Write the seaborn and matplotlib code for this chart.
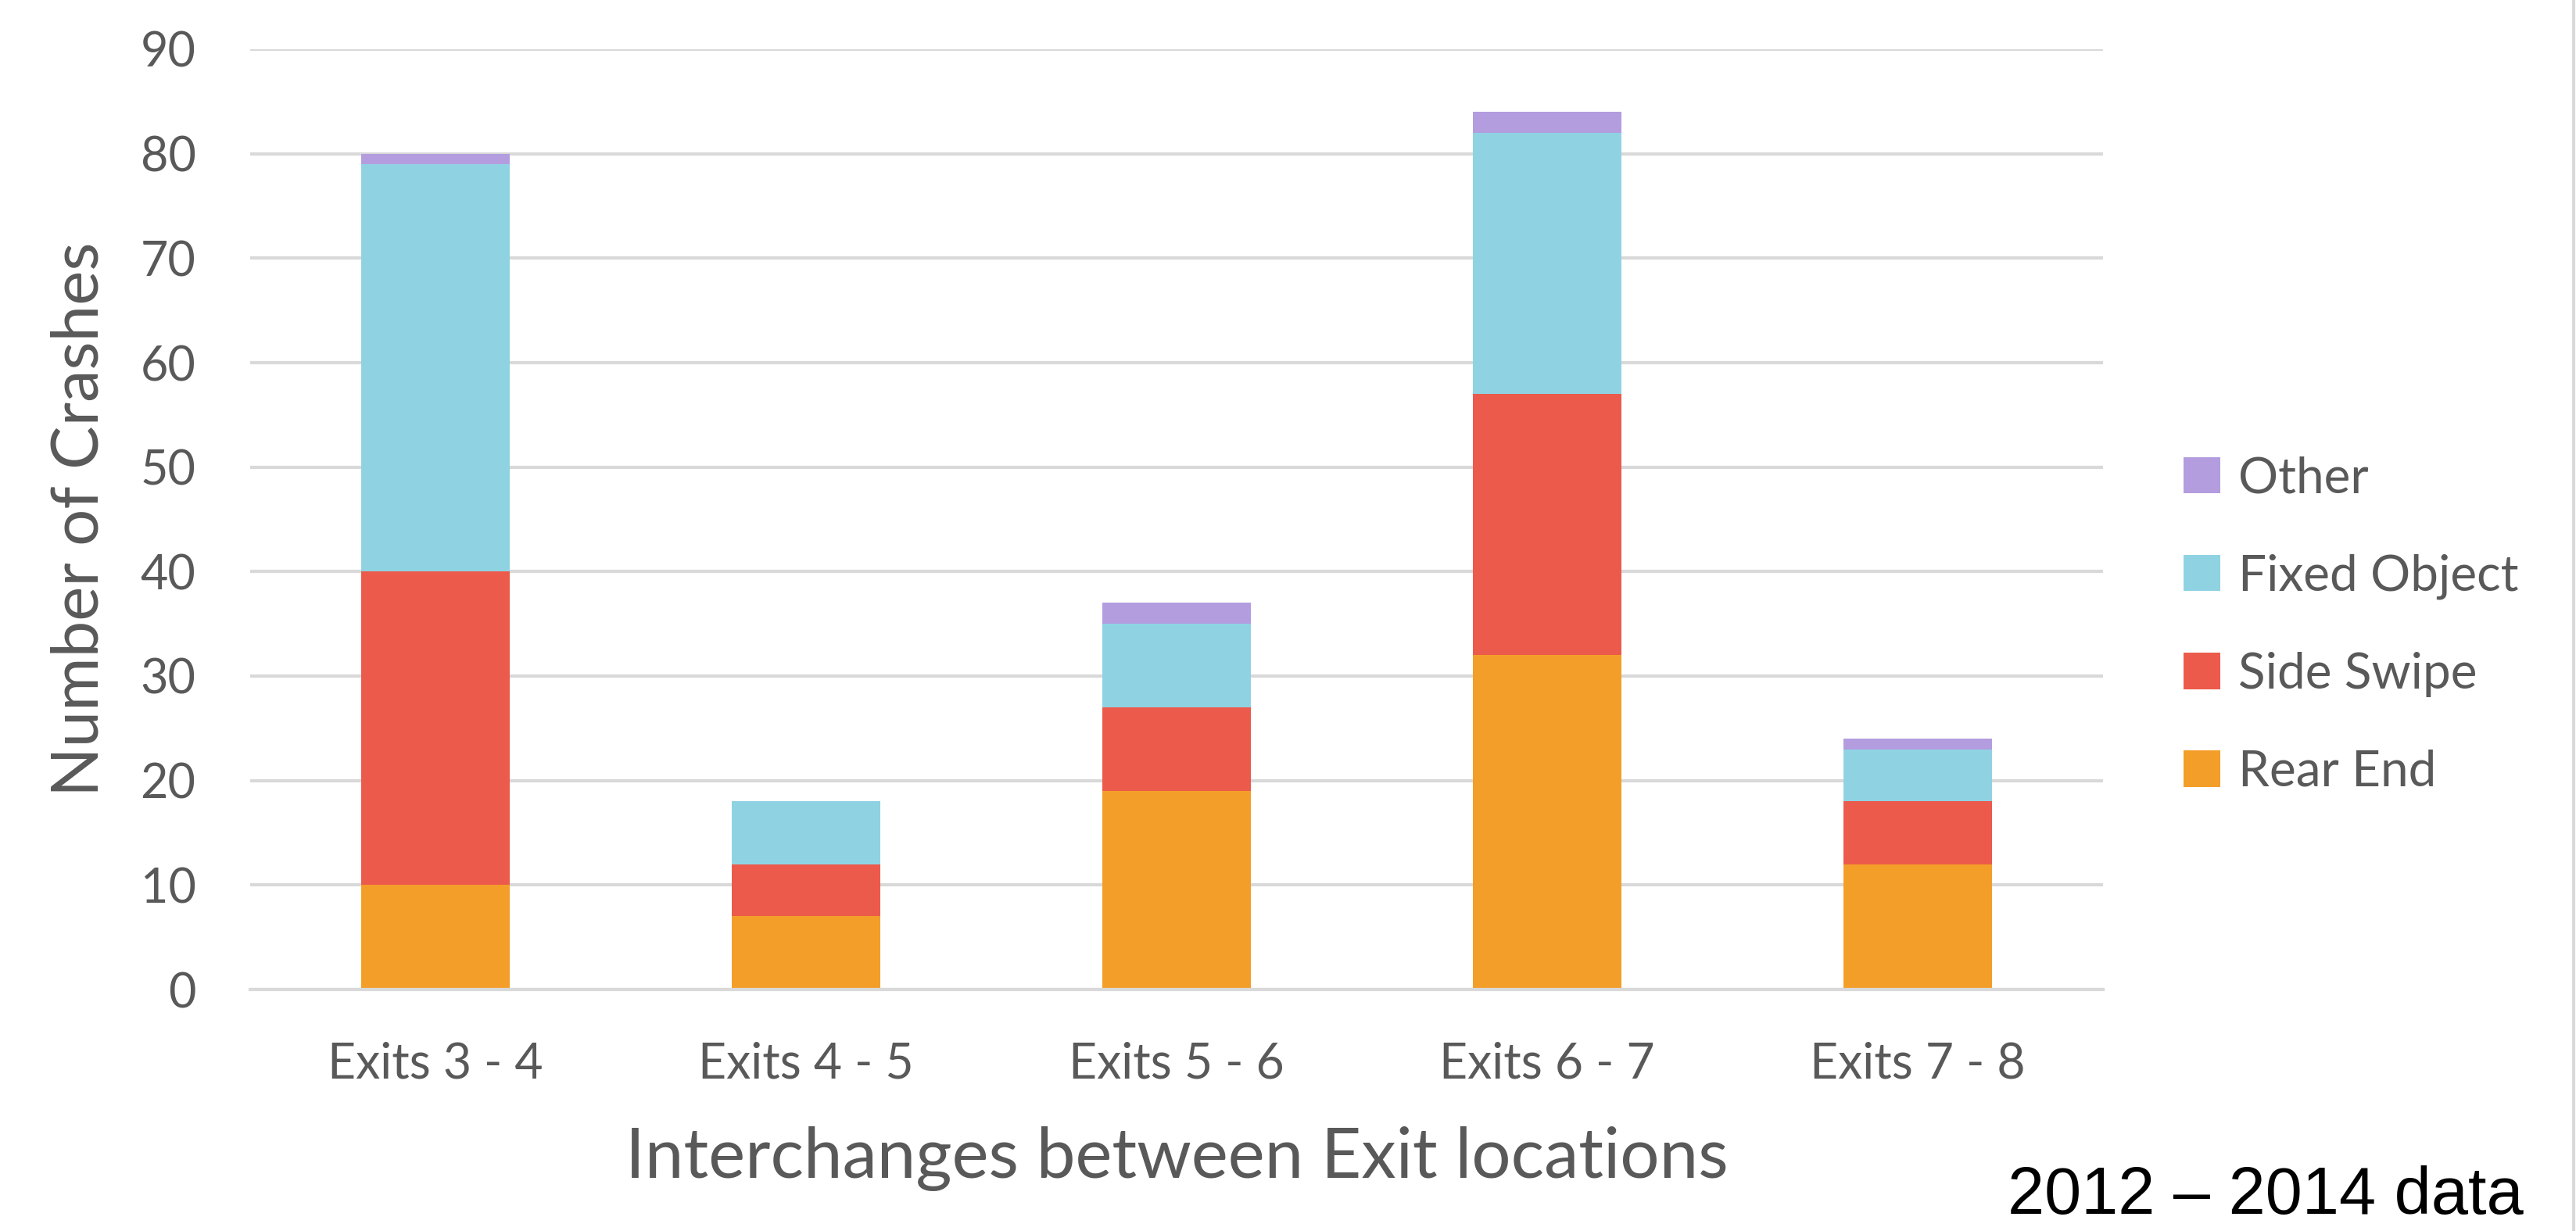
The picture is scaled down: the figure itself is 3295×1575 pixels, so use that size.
import matplotlib
matplotlib.use("Agg")
import matplotlib.pyplot as plt
import seaborn as sns
import pandas as pd
import numpy as np
from matplotlib.patches import Patch
from matplotlib.lines import Line2D

categories = ["Exits 3 - 4", "Exits 4 - 5", "Exits 5 - 6", "Exits 6 - 7", "Exits 7 - 8"]
rear_end = [10, 7, 19, 32, 12]
side_swipe = [30, 5, 8, 25, 6]
fixed_object = [39, 6, 8, 25, 5]
other = [1, 0, 2, 2, 1]

series_names = ["Rear End", "Side Swipe", "Fixed Object", "Other"]
series_vals = [rear_end, side_swipe, fixed_object, other]
colors = {"Rear End": "#F49E2A", "Side Swipe": "#EC5A4B",
          "Fixed Object": "#8FD3E3", "Other": "#B39DDF"}

TXT = "#595959"
GRID = "#D9D9D9"

sns.set_theme(style="white")
plt.rcParams["font.family"] = ["Lato", "DejaVu Sans"]

fig = plt.figure(figsize=(32.95, 15.75), dpi=100)
ax = fig.add_axes([320/3295, 309/1575, (2690-320)/3295, (1266-63)/1575])

cum = np.cumsum(np.array(series_vals), axis=0)
# draw from top of stack downward so lower segments overlay
for i in range(len(series_names) - 1, -1, -1):
    df = pd.DataFrame({"cat": categories, "val": cum[i]})
    sns.barplot(data=df, x="cat", y="val", color=colors[series_names[i]],
                width=0.4, linewidth=0, saturation=1, ax=ax, zorder=3)

ax.set_ylim(0, 90)
ax.set_xlim(-0.5, len(categories) - 0.5)
ax.set_yticks(range(0, 91, 10))
ax.yaxis.grid(True, color=GRID, linewidth=3, zorder=0)
ax.set_axisbelow(True)
for s in ["left", "right", "top"]:
    ax.spines[s].set_visible(False)
ax.spines["bottom"].set_color(GRID)
ax.spines["bottom"].set_linewidth(3)
ax.spines["bottom"].set_zorder(4)

ax.tick_params(axis="y", length=0, pad=50, labelsize=44, labelcolor=TXT)
ax.set_xticks(np.arange(-0.5, len(categories), 1.0), minor=True)
ax.tick_params(axis="x", which="minor", length=15, width=3, color=GRID, direction="out")
ax.tick_params(axis="x", which="major", length=0, pad=48, labelsize=45, labelcolor=TXT)

ax.set_xlabel("Interchanges between Exit locations", fontsize=64, color=TXT, labelpad=36)
ax.set_ylabel("Number of Crashes", fontsize=60, color=TXT, labelpad=28)

handles = [Patch(facecolor=colors[n], edgecolor="none") for n in ["Other", "Fixed Object", "Side Swipe", "Rear End"]]
labels = ["Other", "Fixed Object", "Side Swipe", "Rear End"]
fig.legend(handles, labels, loc="center left", bbox_to_anchor=(2735/3295, 0.492),
           frameon=False, fontsize=46, labelcolor=TXT, handlelength=0.75, handleheight=0.75,
           handletextpad=0.35, labelspacing=1.05)

fig.text(3228/3295, 22/1575, "2012 \u2013 2014 data", ha="right", va="baseline",
         fontsize=61, color="black", family=["Liberation Sans", "DejaVu Sans"])

fig.add_artist(Line2D([3292/3295, 3292/3295], [0, 1], color=GRID, linewidth=3,
                      transform=fig.transFigure))

fig.savefig("out.png", dpi=100, facecolor="white")
